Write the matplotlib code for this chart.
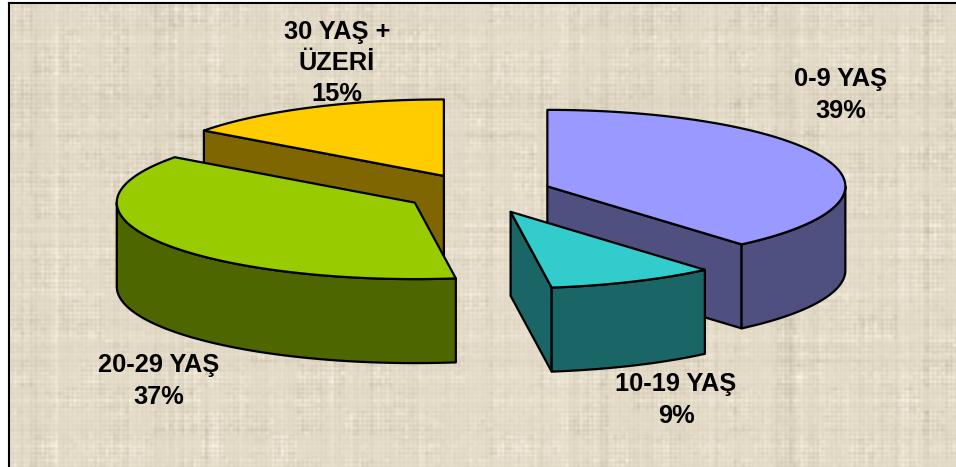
import numpy as np
import matplotlib
matplotlib.use('Agg')
import matplotlib.pyplot as plt
from matplotlib.patches import Polygon

plt.rcParams['font.family'] = ['Liberation Sans', 'DejaVu Sans']

labels = ['0-9 YAŞ', '10-19 YAŞ', '20-29 YAŞ', '30 YAŞ +\nÜZERİ']
values = [38.7, 9.1, 37.3, 14.9]
explode = [0.25, 0.27, 0.245, 0.25]
top_colors = ['#9999FF', '#33CCCC', '#99CC00', '#FFCC00']
side_colors = ['#4F4F80', '#1A6666', '#4D6600', '#806600']
label_pos = [(841, 95), (676, 400), (159, 381), (337, 63)]
draw_order = [3, 0, 2, 1]

W, H = 956, 467
A, B = 298, 76.5    # ellipse radii
DEPTH = 84
CX, CY = 477.5, 193


def ell(deg, cx, cy, dy=0):
    t = np.radians(deg)
    return np.column_stack([cx + A * np.sin(t), cy - B * np.cos(t) + dy])


def texture():
    # woven paper look for the background
    rng = np.random.default_rng(7)
    h, w = H - 3, W - 9
    yy, xx = np.mgrid[0:h, 0:w]
    weave = np.sin(2 * np.pi * xx / 4.6) + np.sin(2 * np.pi * yy / 4.6)
    # some threads stand out more than others
    rows = np.repeat(rng.normal(size=h // 5 + 2), 5)[:h]
    cols = np.repeat(rng.normal(size=w // 5 + 2), 5)[:w]
    # and the pattern fades in and out in patches
    fade = rng.uniform(0.3, 1, size=(h // 24 + 2, w // 24 + 2))
    fade = np.kron(fade, np.ones((24, 24)))[:h, :w]
    img = fade * (6.5 * weave + 4.5 * rows[:, None] + 4.5 * cols[None, :])
    spots = rng.normal(size=(h // 4 + 2, w // 4 + 2))
    img += fade * 4 * np.kron(spots, np.ones((4, 4)))[:h, :w]
    kernel = np.array([0.2, 0.6, 0.2])
    img = np.apply_along_axis(lambda v: np.convolve(v, kernel, 'same'), 0, img)
    img = np.apply_along_axis(lambda v: np.convolve(v, kernel, 'same'), 1, img)
    base = np.array([227, 219, 200], dtype=float)
    rgb = base + img[..., None] * np.array([1.0, 1.02, 1.12])
    return np.clip(rgb, 0, 255).astype(np.uint8)


fig = plt.figure(figsize=(W / 100, H / 100), dpi=100)
ax = fig.add_axes([0, 0, 1, 1])
ax.axis('off')

ax.imshow(texture(), extent=(9, W, H, 3), zorder=0, interpolation='nearest', aspect='auto')
ax.plot([9, 9], [H, 3], color='black', lw=1.5, zorder=1)
ax.plot([9, W], [3, 3], color='black', lw=1.5, zorder=1)
ax.set_xlim(0, W)
ax.set_ylim(H, 0)

edges = np.cumsum([0] + values) * 3.6
line = dict(edgecolor='black', linewidth=1.6, joinstyle='round')

for i in draw_order:
    s, e = edges[i], edges[i + 1]
    mid = np.radians((s + e) / 2)
    cx = CX + explode[i] * A * np.sin(mid)
    cy = CY - explode[i] * B * np.cos(mid)
    apex = np.array([[cx, cy]])
    apex_low = np.array([[cx, cy + DEPTH]])

    # cut faces, only the ones turned towards the viewer
    for ang, show in ((s, np.sin(np.radians(s)) < -1e-6), (e, np.sin(np.radians(e)) > 1e-6)):
        if show:
            p, q = ell(ang, cx, cy), ell(ang, cx, cy, DEPTH)
            ax.add_patch(Polygon(np.vstack([apex, p, q, apex_low]), facecolor=side_colors[i], zorder=2, **line))

    # outer rim, front half only
    r0, r1 = max(s, 90), min(e, 270)
    if r1 > r0:
        arc = np.linspace(r0, r1, 60)
        ax.add_patch(Polygon(np.vstack([ell(arc, cx, cy), ell(arc[::-1], cx, cy, DEPTH)]),
                             facecolor=side_colors[i], zorder=2, **line))

    arc = np.linspace(s, e, 120)
    ax.add_patch(Polygon(np.vstack([apex, ell(arc, cx, cy)]), facecolor=top_colors[i], zorder=2, **line))

for lab, val, (x, y) in zip(labels, values, label_pos):
    ax.text(x, y, f'{lab}\n{round(val)}%', ha='center', va='center', fontsize=18.3, fontweight='bold',
            color='black', linespacing=1.37, zorder=5)

fig.savefig('out.png', dpi=100)
